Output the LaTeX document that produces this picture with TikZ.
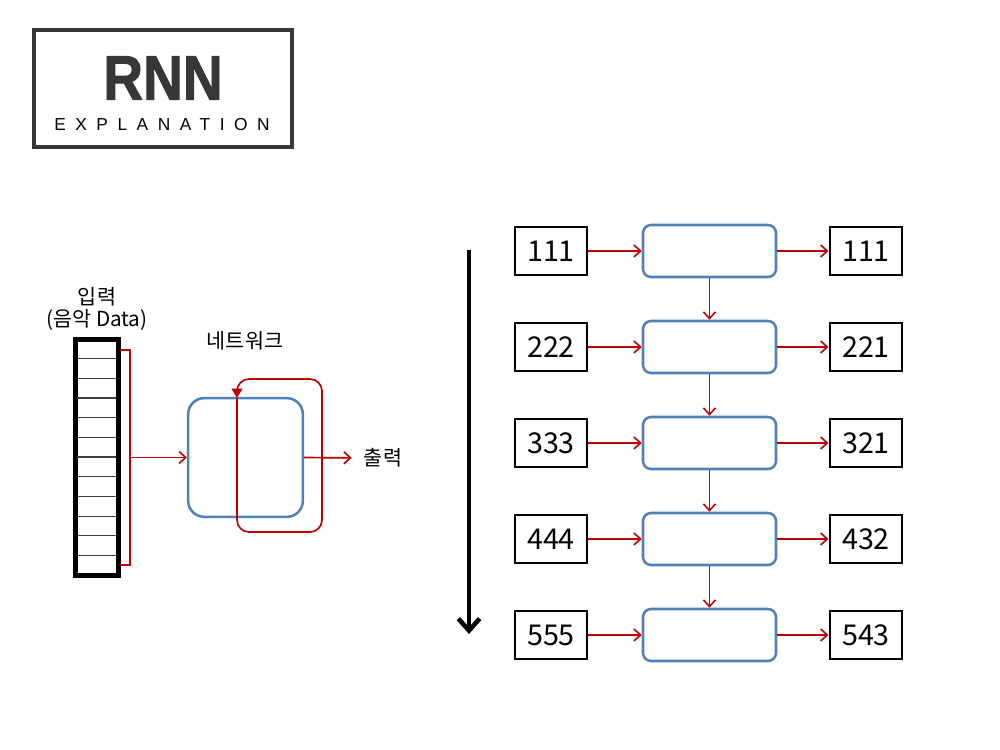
\documentclass[tikz,border=0pt]{standalone}
\usepackage{fontspec}
\setmainfont{Noto Sans CJK KR}
\newfontfamily\titlefont[BoldFeatures={FakeBold=1.6}]{Liberation Sans}
\newfontfamily\spacedfont[LetterSpace=55]{Liberation Sans}
\usetikzlibrary{arrows.meta}
\definecolor{rred}{RGB}{192,0,0}
\definecolor{rblue}{RGB}{79,129,189}
\definecolor{tgray}{RGB}{55,55,55}
\tikzset{
  numbox/.style={draw=black,line width=2.2pt,minimum width=54pt,minimum height=36pt,inner sep=0pt,font=\fontsize{21.5}{23}\selectfont},
  cellbox/.style={draw=rblue,line width=1.9pt,rounded corners=6pt,minimum width=99.75pt,minimum height=39pt,inner sep=0pt},
  netbox/.style={draw=rblue,line width=1.9pt,rounded corners=12pt,minimum width=86pt,minimum height=89pt,inner sep=0pt},
  redarrow/.style={draw=rred,line width=1.25pt,-{Straight Barb[length=5pt,width=9pt,line width=1.2pt]}},
  redline/.style={draw=rred,line width=1.25pt},
  lbl/.style={inner sep=0pt,font=\fontsize{15.5}{17}\selectfont},
}
\begin{document}
\begin{tikzpicture}[x=0.75pt,y=-0.75pt]
\useasboundingbox (0,0) rectangle (1000,750);
% title
\node[draw=tgray,line width=3pt,minimum width=193.5pt,minimum height=87.75pt,inner sep=0pt] (title) at (163,88.5) {};
\node[inner sep=0pt,text=tgray] (rnn) at (163,78) {\titlefont\bfseries\fontsize{47}{50}\selectfont\scalebox{0.88}[1]{RNN}};
\node[inner sep=0pt,anchor=west,text=black] (expl) at (54,125) {\spacedfont\fontsize{13}{14}\selectfont EXPLANATION};
% left diagram
\node[lbl] (inlab1) at (97,297) {입력};
\node[lbl] (inlab2) at (97,320) {(음악 Data)};
\node[lbl] (netlab) at (245,341) {네트워크};
\node[draw=black,line width=3.75pt,minimum width=32.25pt,minimum height=177pt,inner sep=0pt] (stack) at (96.5,457) {};
\foreach \i in {1,...,11}{
  \draw[line width=0.8pt,black!75] (77,{339+\i*19.67}) -- (116,{339+\i*19.67});
}
\coordinate (btop1) at (120,350);
\coordinate (btop2) at (130,350);
\coordinate (bbot2) at (130,565);
\coordinate (bbot1) at (120,565);
\coordinate (bmid) at (130,457.5);
\draw[redline] (btop1) -- (btop2) -- (bbot2) -- (bbot1);
\node[netbox] (net) at (245.5,457.5) {};
\draw[redarrow] (bmid) -- (net.west);
\coordinate (lp0) at (237,398);
\coordinate (lp1) at (237,532);
\coordinate (lp2) at (322,532);
\coordinate (lp3) at (322,379);
\coordinate (lp4) at (237,379);
\draw[redline,rounded corners=9pt,-{Triangle[length=7pt,width=8pt]}] (lp0) -- (lp1) -- (lp2) -- (lp3) -- (lp4) -- (lp0);
\node[lbl] (outlab) at (383,458) {출력};
\draw[redarrow,shorten >=9pt] (net.east) -- (outlab.west);
% time arrow
\coordinate (ta) at (469,250);
\coordinate (tb) at (469,634);
\draw[line width=3.4pt,-{Straight Barb[length=9pt,width=16pt,line width=3.4pt]}] (ta) -- (tb);
% right diagram
\foreach \n/\y/\a/\b in {1/251/111/111,2/347/222/221,3/443/333/321,4/539/444/432,5/635/555/543}{
  \node[numbox] (in\n) at (551,\y) {\a};
  \node[cellbox] (c\n) at (709.5,\y) {};
  \node[numbox] (out\n) at (866,\y) {\b};
  \draw[redarrow] (in\n.east) -- (c\n.west);
  \draw[redarrow] (c\n.east) -- (out\n.west);
}
\foreach \p/\q in {1/2,2/3,3/4,4/5}{
  \draw[redarrow] (c\p.south) -- (c\q.north);
}
\end{tikzpicture}
\end{document}
